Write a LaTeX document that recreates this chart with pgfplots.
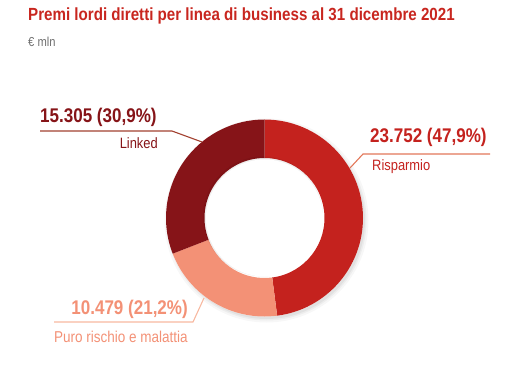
\documentclass[border=0pt]{standalone}
\usepackage{fontspec}
\setmainfont{Liberation Sans}[FakeStretch=0.86]
\usepackage{pgfplots}
\pgfplotsset{compat=1.18}
\usepackage{pgfplotstable}

\definecolor{risp}{HTML}{C4221E}
\definecolor{linked}{HTML}{861418}
\definecolor{puro}{HTML}{F39176}
\definecolor{titlered}{HTML}{C8261F}
\definecolor{subgray}{HTML}{707070}
\definecolor{lnlinked}{HTML}{A2402F}
\definecolor{lnrisp}{HTML}{E27759}
\definecolor{lnpuro}{HTML}{F7B8A0}

\pgfplotstableread{
label value pct
Risparmio 23752 47.9
Puro 10479 21.2
Linked 15305 30.9
}\datatable

\pgfplotstablegetelem{0}{value}\of\datatable \let\vA\pgfplotsretval
\pgfplotstablegetelem{1}{value}\of\datatable \let\vB\pgfplotsretval
\pgfplotstablegetelem{2}{value}\of\datatable \let\vC\pgfplotsretval
\edef\aA{\fpeval{round(90-360*\vA/(\vA+\vB+\vC),3)}}
\edef\aB{\fpeval{round(90-360*(\vA+\vB)/(\vA+\vB+\vC),3)}}

\begin{document}
\begin{tikzpicture}
\def\Ro{98.5pt}
\def\Ri{60pt}
\begin{axis}[x=1pt,y=1pt,xmin=0,xmax=520,ymin=0,ymax=373,
  hide axis, clip=false]
\path (axis cs:0,0) rectangle (axis cs:520,373);
% shadow
\begin{scope}[shift={(axis cs:266.5,152.5)}]
\fill[black,opacity=0.03] (0,0) circle[radius=102pt];
\fill[black,opacity=0.04] (0,0) circle[radius=100pt];
\fill[black,opacity=0.05] (0,0) circle[radius=98.5pt];
\end{scope}
\begin{scope}[shift={(axis cs:264.5,155)}]
\fill[white] (0,0) circle[radius=\Ro];
\fill[risp] (90:\Ro) arc[start angle=90,end angle=\aA,radius=\Ro]
  -- (\aA:\Ri) arc[start angle=\aA,end angle=90,radius=\Ri] -- cycle;
\fill[puro] (\aA:\Ro) arc[start angle=\aA,end angle=\aB,radius=\Ro]
  -- (\aB:\Ri) arc[start angle=\aB,end angle=\aA,radius=\Ri] -- cycle;
\fill[linked] (\aB:\Ro) arc[start angle=\aB,end angle=-270,radius=\Ro]
  -- (-270:\Ri) arc[start angle=-270,end angle=\aB,radius=\Ri] -- cycle;
\fill[black,opacity=0.06] (-1.5pt,1.5pt) circle[radius=\Ri];
\fill[white] (0,0) circle[radius=58.5pt];
\end{scope}
% leader lines
\draw[lnlinked,line width=1.1pt] (axis cs:40,242) -- (axis cs:172,242) -- (axis cs:202,231);
\draw[lnrisp,line width=1.1pt] (axis cs:490,219) -- (axis cs:363,219) -- (axis cs:350,205);
\draw[lnpuro,line width=1.1pt] (axis cs:54,51) -- (axis cs:193,51) -- (axis cs:204,75);
% texts
\node[anchor=base west,inner sep=0pt,text=titlered,font=\fontsize{17.6}{20}\selectfont\bfseries]
  at (axis cs:28,352) {Premi lordi diretti per linea di business al 31 dicembre 2021};
\node[anchor=base west,inner sep=0pt,text=subgray,font=\fontsize{13}{15}\selectfont]
  at (axis cs:28,326) {€ mln};
\node[anchor=base west,inner sep=0pt,text=linked,font=\fontsize{19.8}{22}\selectfont\bfseries]
  at (axis cs:40,250) {15.305 (30,9\%)};
\node[anchor=base east,inner sep=0pt,text=linked,font=\fontsize{15}{17}\selectfont]
  at (axis cs:158,224) {Linked};
\node[anchor=base west,inner sep=0pt,text=risp,font=\fontsize{19.8}{22}\selectfont\bfseries]
  at (axis cs:370,230) {23.752 (47,9\%)};
\node[anchor=base west,inner sep=0pt,text=risp,font=\fontsize{15}{17}\selectfont]
  at (axis cs:372,203) {Risparmio};
\node[anchor=base east,inner sep=0pt,text=puro,font=\fontsize{19.8}{22}\selectfont\bfseries]
  at (axis cs:188,59) {10.479 (21,2\%)};
\node[anchor=base west,inner sep=0pt,text=puro,font=\fontsize{15.7}{17}\selectfont]
  at (axis cs:54,31) {Puro rischio e malattia};
\end{axis}
\end{tikzpicture}
\end{document}
